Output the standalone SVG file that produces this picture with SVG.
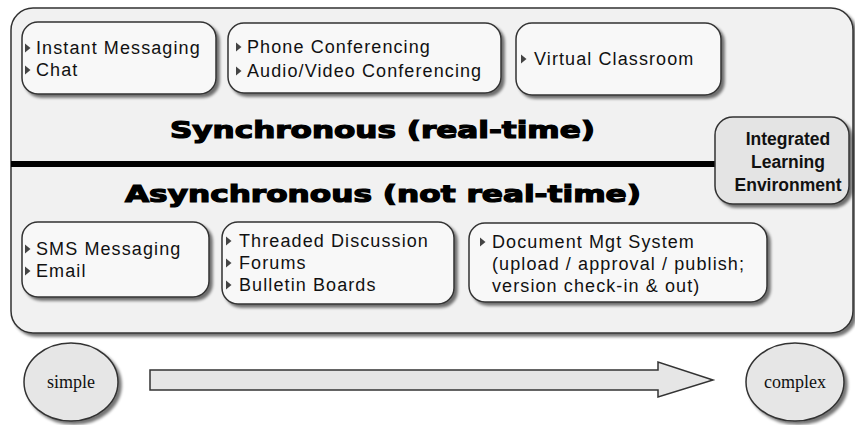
<svg xmlns="http://www.w3.org/2000/svg" width="855" height="425" viewBox="0 0 855 425">
<defs>
<filter id="sh" x="-10%" y="-10%" width="130%" height="140%">
<feGaussianBlur in="SourceAlpha" stdDeviation="1.8"/>
<feOffset dx="3" dy="3" result="b"/>
<feComponentTransfer><feFuncA type="linear" slope="0.55"/></feComponentTransfer>
<feMerge><feMergeNode/><feMergeNode in="SourceGraphic"/></feMerge>
</filter>
<path id="bul" d="M0,-4.5 L5.5,0 L0,4.5 Z"/>
</defs>
<style>
.box{fill:#f8f8f8;stroke:#333;stroke-width:1.5;filter:url(#sh)}
.panel{fill:#f1f1f1;stroke:#333;stroke-width:1.5;filter:url(#sh)}
.t{font-family:"Liberation Sans",Arial,sans-serif;font-size:18px;fill:#111;letter-spacing:1.1px}
.big{font-family:"DejaVu Sans","Liberation Sans",sans-serif;font-weight:bold;font-size:23px;fill:#000;stroke:#000;stroke-width:1.2}
.ile{font-family:"Liberation Sans",Arial,sans-serif;font-weight:bold;font-size:17.5px;fill:#111;text-anchor:middle}
.srf{font-family:"Liberation Serif","Times New Roman",serif;font-size:18px;fill:#111;text-anchor:middle}
.b{fill:#444}
.circ{fill:#e6e6e6;stroke:#333;stroke-width:1.5;filter:url(#sh)}
</style>
<rect width="855" height="425" fill="#ffffff"/>
<g id="panel">
<rect class="panel" x="11" y="8" width="842" height="325" rx="22"/>
</g>
<g id="connectors">
<line x1="11" y1="164" x2="716" y2="164" stroke="#000" stroke-width="6"/>
</g>
<g id="sync-label"><text class="big" x="170" y="138" textLength="425" lengthAdjust="spacingAndGlyphs">Synchronous (real-time)</text></g>
<g id="async-label"><text class="big" x="125" y="202" textLength="516" lengthAdjust="spacingAndGlyphs">Asynchronous (not real-time)</text></g>
<g id="im">
<rect class="box" x="22" y="22" width="194" height="72" rx="16"/>
<use href="#bul" class="b" x="25" y="48"/><text class="t" x="36" y="54">Instant Messaging</text>
<use href="#bul" class="b" x="25" y="70"/><text class="t" x="36" y="76">Chat</text>
</g>
<g id="conf">
<rect class="box" x="228" y="23" width="273" height="70" rx="16"/>
<use href="#bul" class="b" x="236" y="47"/><text class="t" x="247" y="53">Phone Conferencing</text>
<use href="#bul" class="b" x="236" y="71"/><text class="t" x="247" y="77">Audio/Video Conferencing</text>
</g>
<g id="vc">
<rect class="box" x="516" y="23" width="205" height="72" rx="16"/>
<use href="#bul" class="b" x="521" y="59"/><text class="t" x="534" y="65">Virtual Classroom</text>
</g>
<g id="ile">
<rect class="box" x="715" y="117" width="134" height="87" rx="18" style="fill:#e4e4e4"/>
<text class="ile" x="788" y="145">Integrated</text>
<text class="ile" x="788" y="168">Learning</text>
<text class="ile" x="788" y="191">Environment</text>
</g>
<g id="sms">
<rect class="box" x="22" y="222" width="187" height="75" rx="16"/>
<use href="#bul" class="b" x="25" y="249"/><text class="t" x="36" y="255">SMS Messaging</text>
<use href="#bul" class="b" x="25" y="271"/><text class="t" x="36" y="277">Email</text>
</g>
<g id="threaded">
<rect class="box" x="222" y="222" width="232" height="82" rx="16"/>
<use href="#bul" class="b" x="226" y="241"/><text class="t" x="239" y="247">Threaded Discussion</text>
<use href="#bul" class="b" x="226" y="263"/><text class="t" x="239" y="269">Forums</text>
<use href="#bul" class="b" x="226" y="285"/><text class="t" x="239" y="291">Bulletin Boards</text>
</g>
<g id="dms">
<rect class="box" x="469" y="223" width="298" height="79" rx="16"/>
<use href="#bul" class="b" x="480" y="242"/><text class="t" x="492" y="248">Document Mgt System</text>
<text class="t" x="492" y="270">(upload / approval / publish;</text>
<text class="t" x="492" y="292">version check-in &amp; out)</text>
</g>
<g id="simple">
<ellipse class="circ" cx="71" cy="382" rx="47" ry="39"/>
<text class="srf" x="71" y="388">simple</text>
</g>
<g id="arrow">
<path d="M150,370 L658,370 L658,362 L713,380 L658,397 L658,390 L150,390 Z" fill="#e6e6e6" stroke="#333" stroke-width="1.5"/>
</g>
<g id="complex">
<ellipse class="circ" cx="795" cy="382" rx="49" ry="39"/>
<text class="srf" x="795" y="388">complex</text>
</g>
</svg>
